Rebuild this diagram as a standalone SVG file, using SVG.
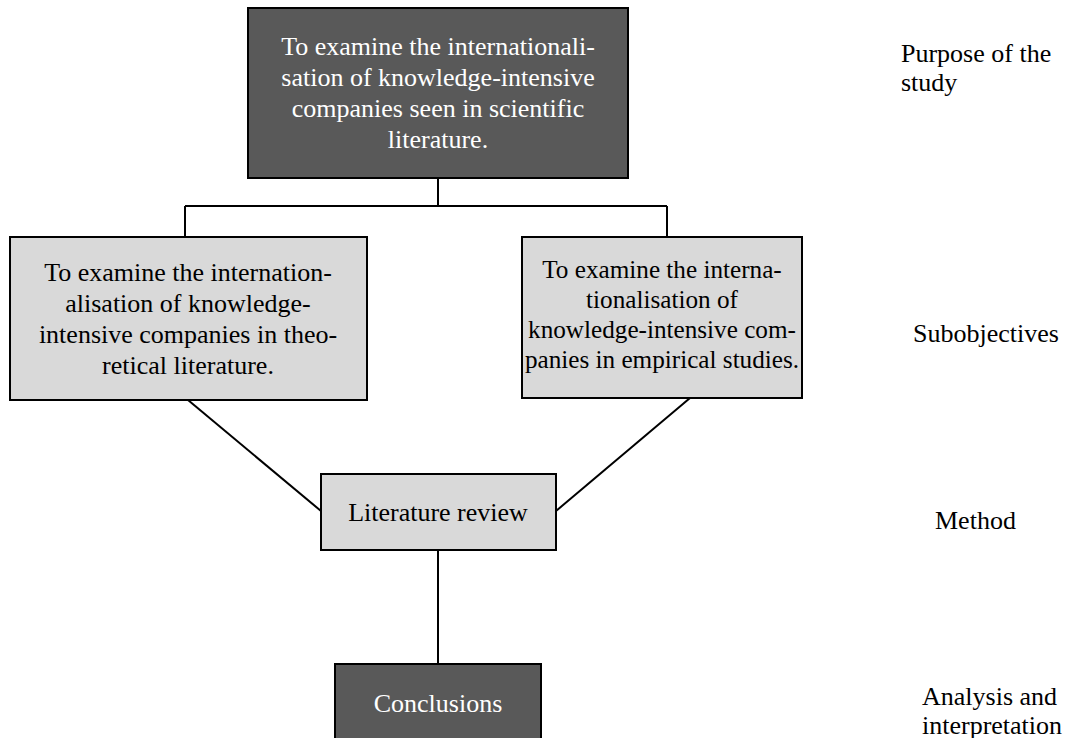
<svg xmlns="http://www.w3.org/2000/svg" width="1068" height="738" viewBox="0 0 1068 738">
  <style>
    text { font-family: "Liberation Serif", "Times New Roman", serif; font-size: 26px; }
    .dark { fill: #595959; stroke: #000; stroke-width: 2; }
    .light { fill: #d9d9d9; stroke: #000; stroke-width: 2; }
    .tw { fill: #ffffff; text-anchor: middle; }
    .tb { fill: #000000; text-anchor: middle; }
    .narrow { font-size: 25.2px; }
    .lab { fill: #000000; }
    .wire { fill: none; stroke: #000; stroke-width: 2; }
  </style>
  <rect width="1068" height="738" fill="#ffffff"/>

  <!-- connectors -->
  <g id="connectors">
    <path class="wire" d="M438 178 V206 M185 206 H667 M185 206 V237 M667 206 V237"/>
    <line class="wire" x1="188" y1="400" x2="321" y2="511"/>
    <line class="wire" x1="690" y1="398" x2="556" y2="511"/>
    <line class="wire" x1="438" y1="550" x2="438" y2="664"/>
  </g>

  <!-- purpose of the study -->
  <g id="purpose">
    <rect class="dark" x="248" y="8" width="380" height="170"/>
    <text class="tw" x="438" y="55">To examine the internationali-</text>
    <text class="tw" x="438" y="86">sation of knowledge-intensive</text>
    <text class="tw" x="438" y="117">companies seen in scientific</text>
    <text class="tw" x="438" y="148">literature.</text>
  </g>

  <!-- subobjective: theoretical literature -->
  <g id="sub-theory">
    <rect class="light" x="10" y="237" width="357" height="163"/>
    <text class="tb" x="188" y="281">To examine the internation-</text>
    <text class="tb" x="188" y="312">alisation of knowledge-</text>
    <text class="tb" x="188" y="343">intensive companies in theo-</text>
    <text class="tb" x="188" y="374">retical literature.</text>
  </g>

  <!-- subobjective: empirical studies -->
  <g id="sub-empirical">
    <rect class="light" x="522" y="237" width="280" height="161"/>
    <text class="tb narrow" x="662" y="278">To examine the interna-</text>
    <text class="tb narrow" x="662" y="308">tionalisation of</text>
    <text class="tb narrow" x="662" y="338">knowledge-intensive com-</text>
    <text class="tb narrow" x="662" y="368">panies in empirical studies.</text>
  </g>

  <!-- method -->
  <g id="method">
    <rect class="light" x="321" y="474" width="235" height="76"/>
    <text class="tb" x="438" y="521">Literature review</text>
  </g>

  <!-- conclusions -->
  <g id="conclusions">
    <rect class="dark" x="335" y="664" width="206" height="90"/>
    <text class="tw" x="438" y="712">Conclusions</text>
  </g>

  <!-- row labels -->
  <g id="labels">
    <text class="lab" x="901" y="62">Purpose of the</text>
    <text class="lab" x="901" y="91">study</text>
    <text class="lab" x="913" y="342">Subobjectives</text>
    <text class="lab" x="935" y="529">Method</text>
    <text class="lab" x="922" y="705">Analysis and</text>
    <text class="lab" x="922" y="734">interpretation</text>
  </g>
</svg>
